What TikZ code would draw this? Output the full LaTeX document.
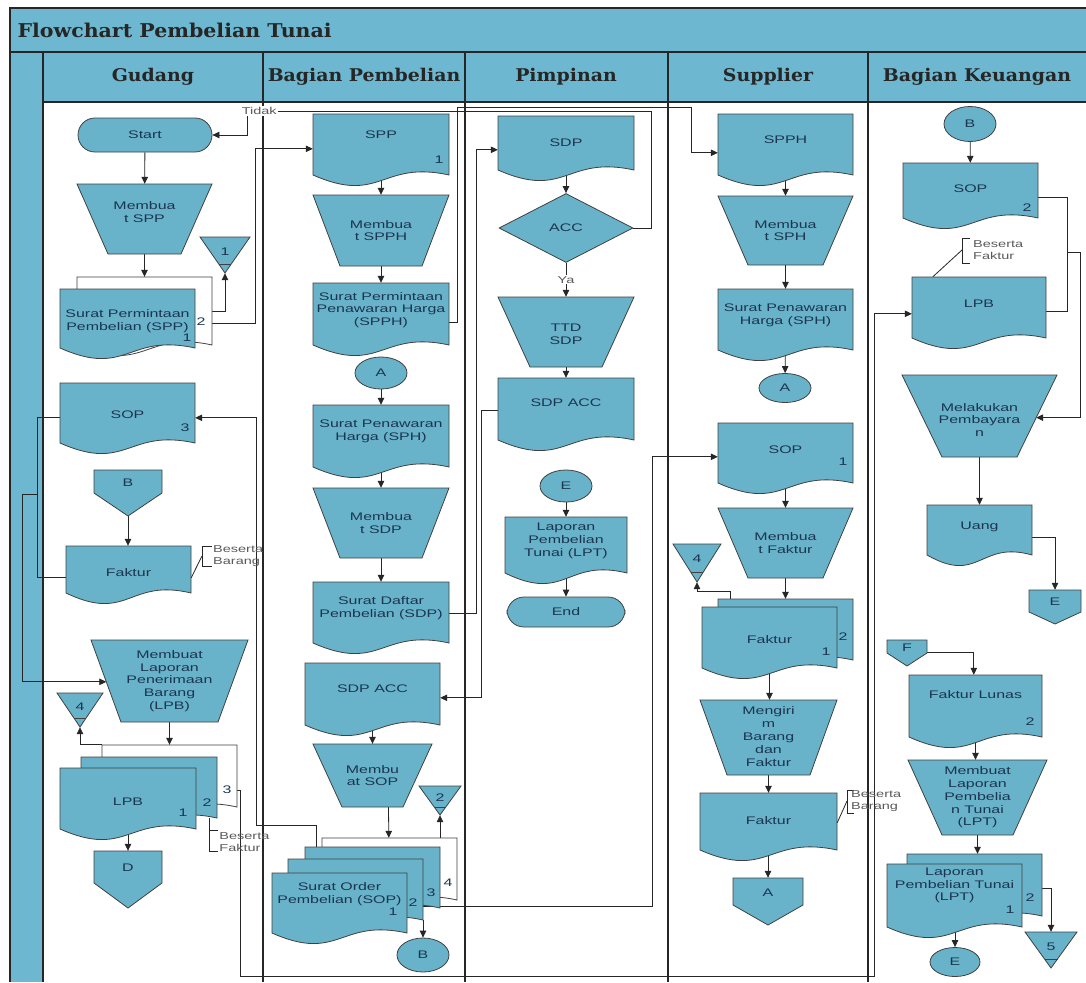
\documentclass[tikz,border=0pt]{standalone}
\usepackage{fontspec}
\newfontfamily\docfont[FakeStretch=1.45]{Liberation Sans}
\newfontfamily\headfont[FakeStretch=1.08]{DejaVu Serif}
\usetikzlibrary{arrows.meta,calc,fit,backgrounds,shapes.geometric}
\definecolor{poolblue}{HTML}{6DB8D0}
\definecolor{shapeblue}{HTML}{68B3CA}
\definecolor{labelnavy}{HTML}{1C3550}
\definecolor{notegrey}{HTML}{5A5A5A}

\tikzset{
  shp/.style={fill=shapeblue, draw=black!75, line width=0.8pt},
  blankdoc/.style={fill=white, draw=black!75, line width=0.8pt},
  lbl/.style={font=\docfont\fontsize{11}{12.8}\selectfont, text=labelnavy, align=center, inner sep=0pt},
  num/.style={font=\docfont\fontsize{11}{12}\selectfont, text=labelnavy, inner sep=0pt},
  note/.style={font=\docfont\fontsize{10}{11.5}\selectfont, text=notegrey, align=left, inner sep=0pt},
  yesno/.style={note, fill=white, inner sep=1pt},
  flow/.style={draw=black!85, line width=0.8pt, -{Triangle[length=7pt,width=6.5pt]}},
  wire/.style={draw=black!85, line width=0.8pt},
  laneline/.style={draw=black!85, line width=1.2pt},
  term/.style={shp, lbl, rectangle, rounded corners=17pt, minimum width=134pt, minimum height=34pt},
  conn/.style={shp, lbl, ellipse, minimum width=52pt, minimum height=32pt},
  decide/.style={shp, lbl, diamond, minimum width=134pt, minimum height=69pt},
  lanehead/.style={font=\headfont\bfseries\fontsize{17.5}{19}\selectfont, text=black!85},
  pooltitle/.style={font=\headfont\bfseries\fontsize{19}{21}\selectfont, text=black!85},
}

% document with wavy bottom: name, x1, y1, x2, y2
\newcommand{\docl}[6][shp]{%
  \draw[#1] (#3,#4) -- (#5,#4) -- (#5,#6)
    .. controls ({(#3+#5)/2},{#6-15}) and ({(#3+#5)/2},{#6+30}) .. (#3,#6) -- cycle;
  \node[fit={(#3,#4) (#5,#6)}, inner sep=0pt] (#2) {};}
\newcommand{\docu}[8][shp]{%
  \docl[#1]{#2}{#3}{#4}{#5}{#6}
  \node[lbl] (#2-t) at ($(#2.center)+(0,#7)$) {#8};}
% manual operation: name, x1, y1, x2, y2, inset, dy, text
\newcommand{\manop}[8]{%
  \draw[shp] (#2,#3) coordinate (#1-tl) -- (#4,#3) coordinate (#1-tr)
    -- ({#4-#6},#5) coordinate (#1-br) -- ({#2+#6},#5) coordinate (#1-bl) -- cycle;
  \node[fit={(#2,#3) (#4,#5)}, inner sep=0pt] (#1) {};
  \node[lbl] (#1-t) at ($(#1.center)+(0,#7)$) {#8};}
% off-page connector: name, cx, top, half width, shoulder, apex, text
\newcommand{\offpg}[7]{%
  \draw[shp] ({#2-#4},#3) -- ({#2+#4},#3) -- ({#2+#4},#5) -- (#2,#6) -- ({#2-#4},#5) -- cycle;
  \node[fit={({#2-#4},#3) ({#2+#4},#6)}, inner sep=0pt] (#1) {};
  \node[lbl] (#1-t) at (#2,{(#3+#5)/2+1}) {#7};}
% archive triangle: name, cx, top, half width, apex, text
\newcommand{\store}[6]{%
  \draw[shp] ({#2-#4},#3) -- ({#2+#4},#3) -- (#2,#5) -- cycle;
  \draw[shp] ({#2-0.25*#4},{#3+0.75*(#5-#3)}) -- ({#2+0.25*#4},{#3+0.75*(#5-#3)});
  \node[fit={({#2-#4},#3) ({#2+#4},#5)}, inner sep=0pt] (#1) {};
  \node[lbl] (#1-t) at (#2,{#3+0.4*(#5-#3)}) {#6};}

\begin{document}
\begin{tikzpicture}[x=1pt,y=-1pt]
  \useasboundingbox (0,0) rectangle (1086,982);
  % Pool and lanes
  \begin{scope}[on background layer]
    \fill[white] (0,0) rectangle (1086,982);
    \fill[poolblue] (10,8) rectangle (1086,52);
    \fill[poolblue] (10,52) rectangle (43,982);
    \fill[poolblue] (43,52) rectangle (1086,102);
    \draw[laneline] (10,982) -- (10,8) -- (1086,8);
    \draw[laneline] (10,52) -- (1086,52);
    \draw[laneline] (43,102) -- (1086,102);
    \foreach \x in {43,263,465,668,868}
      \draw[laneline] (\x,52) -- (\x,982);
  \end{scope}
  \node[pooltitle, anchor=west] (judul) at (14,30) {Flowchart Pembelian Tunai};
  \node[lanehead] (hgudang) at (153,77) {Gudang};
  \node[lanehead] (hbeli) at (364,77) {Bagian Pembelian};
  \node[lanehead] (hpimpin) at (566,77) {Pimpinan};
  \node[lanehead] (hsupp) at (768,77) {Supplier};
  \node[lanehead] (huang) at (977,77) {Bagian Keuangan};

  % Gudang
  \node[term] (start) at (145,135) {Start};
  \manop{mkspp}{77}{184}{212}{254}{31}{-7}{Membua\\t SPP}
  \docl[blankdoc]{sppb}{77}{277}{212}{345}
  \docu{sppf}{60}{289}{195}{348}{3}{Surat Permintaan\\Pembelian (SPP)}
  \node[num] (sppn1) at (187,338) {1};
  \node[num] (sppn2) at (201,322) {2};
  \store{arsip1}{225}{237}{25}{273}{1}
  \docu{sopg}{60}{383}{195}{443}{2}{SOP}
  \node[num] (sopgn) at (185,428) {3};
  \offpg{offbg}{128}{470}{34}{493}{516}{B}
  \docu{fakg}{66}{546}{191}{593}{3}{Faktur}
  \manop{mklpb}{91}{640}{248}{722}{30}{0}{Membuat\\Laporan\\Penerimaan\\Barang\\(LPB)}
  \store{arsip4g}{80}{693}{23}{727}{4}
  \docl[blankdoc]{lpbc}{102}{745}{237}{807}
  \docl{lpbb}{81}{757}{217}{818}
  \docu{lpba}{60}{768}{196}{829}{3}{LPB}
  \node[num] (lpbn1) at (183,813) {1};
  \node[num] (lpbn2) at (207,803) {2};
  \node[num] (lpbn3) at (227,790) {3};
  \offpg{offd}{128}{851}{34}{883}{908}{D}

  % Bagian Pembelian
  \docu{sppbp}{313}{114}{449}{175}{-10}{SPP}
  \node[num] (sppbpn) at (439,160) {1};
  \manop{mkspph}{313}{195}{449}{266}{27}{0}{Membua\\t SPPH}
  \docu{spph}{313}{283}{449}{345}{-4}{Surat Permintaan\\Penawaran Harga\\(SPPH)}
  \node[conn] (cona) at (381,373) {A};
  \docu{sph}{313}{405}{449}{467}{-5}{Surat Penawaran\\Harga (SPH)}
  \manop{mksdp}{313}{488}{449}{558}{27}{0}{Membua\\t SDP}
  \docu{sdp}{313}{582}{449}{643}{-4}{Surat Daftar\\Pembelian (SDP)}
  \docu{sdpaccb}{305}{663}{440}{725}{-5}{SDP ACC}
  \manop{mksop}{313}{744}{432}{807}{29}{0}{Membu\\at SOP}
  \store{arsip2}{440}{786}{21}{815}{2}
  \docl[blankdoc]{sopd}{322}{838}{457}{900}
  \docl{sopc}{305}{847}{440}{908}
  \docl{sopb}{288}{859}{423}{920}
  \docu{sopa}{272}{873}{407}{933}{-9}{Surat Order\\Pembelian (SOP)}
  \node[num] (sopn1) at (393,912) {1};
  \node[num] (sopn2) at (413,903) {2};
  \node[num] (sopn3) at (431,893) {3};
  \node[num] (sopn4) at (448,883) {4};
  \node[conn, minimum height=34pt] (conb) at (423,955) {B};

  % Pimpinan
  \docu{sdpp}{498}{116}{634}{170}{0}{SDP}
  \node[decide] (acc) at (566,228) {ACC};
  \manop{ttd}{498}{297}{634}{367}{32}{2}{TTD\\SDP}
  \docu{sdpaccp}{498}{378}{634}{440}{-6}{SDP ACC}
  \node[conn] (cone) at (566,486) {E};
  \docu{lpt}{505}{517}{627}{573}{-4}{Laporan\\Pembelian\\Tunai (LPT)}
  \node[term, minimum width=118pt, minimum height=30pt] (endt) at (566,612) {End};

  % Supplier
  \docu{spphs}{718}{114}{853}{175}{-5}{SPPH}
  \manop{mksph}{718}{196}{853}{265}{30}{0}{Membua\\t SPH}
  \docu{sphs}{718}{289}{853}{350}{-4}{Surat Penawaran\\Harga (SPH)}
  \node[conn, minimum height=29pt] (conas) at (785,388) {A};
  \docu{sops}{718}{423}{853}{483}{-3}{SOP}
  \node[num] (sopsn) at (843,462) {1};
  \manop{mkfak}{718}{508}{853}{578}{30}{0}{Membua\\t Faktur}
  \store{arsip4s}{697}{544}{24}{582}{4}
  \docl{fakb}{718}{599}{853}{660}
  \docu{faka}{702}{607}{837}{668}{2}{Faktur}
  \node[num] (fakn1) at (826,652) {1};
  \node[num] (fakn2) at (843,637) {2};
  \manop{mkirim}{700}{700}{837}{775}{27}{-1}{Mengiri\\m\\Barang\\dan\\Faktur}
  \docu{fakk}{700}{793}{837}{850}{-1}{Faktur}
  \offpg{offas}{768}{878}{35}{905}{925}{A}

  % Bagian Keuangan
  \node[conn, minimum height=35pt] (conbk) at (970,124) {B};
  \docu{sopk}{903}{163}{1038}{218}{-2}{SOP}
  \node[num] (sopkn) at (1027,208) {2};
  \docu{lpbk}{912}{277}{1046}{338}{-4}{LPB}
  \manop{bayar}{902}{375}{1057}{457}{40}{4}{Melakukan\\Pembayara\\n}
  \docu{uang}{927}{505}{1032}{555}{-3}{Uang}
  \offpg{offe}{1055}{590}{26}{612}{624}{E}
  \offpg{offf}{907}{640}{20}{653}{666}{F}
  \docu{fakl}{909}{675}{1042}{737}{-11}{Faktur Lunas}
  \node[num] (fakln) at (1030,722) {2};
  \manop{mklpt}{908}{760}{1047}{835}{34}{0}{Membuat\\Laporan\\Pembelia\\n Tunai\\(LPT)}
  \docl{lptb}{907}{854}{1042}{916}
  \docu{lpta}{887}{864}{1022}{927}{-10}{Laporan\\Pembelian Tunai\\(LPT)}
  \node[num] (lptn1) at (1010,910) {1};
  \node[num] (lptn2) at (1030,898) {2};
  \store{arsip5}{1051}{932}{26}{968}{5}
  \node[conn, minimum width=50pt, minimum height=29pt] (conek) at (955,962) {E};

  % Notes
  \coordinate (brg1) at (202,546);
  \draw[wire] ($(brg1)+(10,0)$) -- (brg1) -- ++(0,20) -- ++(10,0);
  \draw[wire] ($(fakg.north east)+(0,32)$) -- ($(brg1)+(0,10)$);
  \node[note, anchor=west] (ketbrg1) at ($(brg1)+(11,10)$) {Beserta\\Barang};
  \coordinate (brg2) at ($(lpbb.south east)+(-8,12)$);
  \draw[wire] ($(lpbb.south east)+(-8,0)$) -- (brg2) -- ++(0,21) -- ++(9,0);
  \draw[wire] (brg2) -- ++(9,0);
  \node[note, anchor=west] (ketbrg2) at ($(brg2)+(10,12)$) {Beserta\\Faktur};
  \coordinate (brg3) at (847,790);
  \draw[wire] ($(brg3)+(7,0)$) -- (brg3) -- ++(0,23) -- ++(7,0);
  \draw[wire] ($(fakk.north east)+(0,30)$) -- ($(brg3)+(0,11)$);
  \node[note, anchor=west] (ketbrg3) at ($(brg3)+(4,11)$) {Beserta\\Barang};
  \coordinate (brg4) at (962,238);
  \draw[wire] ($(brg4)+(8,0)$) -- (brg4) -- ++(0,25) -- ++(8,0);
  \draw[wire] ($(brg4)+(0,12)$) -- ($(lpbk.north west)+(21,0)$);
  \node[note, anchor=west] (ketbrg4) at ($(brg4)+(11,12)$) {Beserta\\Faktur};

  % Flows
  \begin{scope}[on background layer]
    \draw[flow] (start) -- (mkspp);
    \draw[flow] (mkspp) -- (sppb);
    \draw[flow] ($(sppb.north east)+(0,35)$) -| (arsip1.south);
    \draw[flow] ($(sppf.north east)+(0,35)$) -- ++(60,0) |- ($(sppbp.north west)+(0,35)$);
    \draw[wire] ($(sopg.north west)+(0,35)$) -- ++(-22,0) coordinate (gj) |- ($(fakg.north west)+(0,32)$);
    \draw[flow] ($(gj)+(0,77)$) -- ++(-15,0) |- ($(mklpb-tl)!0.51!(mklpb-bl)$);
    \draw[flow] (offbg.south) -- (offbg.south |- fakg.north);
    \draw[flow] (mklpb.south) -- (mklpb.south |- lpbc.north);
    \draw[flow] (lpbc.north west) -| (arsip4g.south);
    \draw[flow] ($(lpbc.north east)+(0,46)$) -- ++(3,0) -- ++(0,186) -| ($(lpbk.north west)+(-37,37)$) -- ($(lpbk.north west)+(0,37)$);
    \draw[flow] (lpba.south) -- (offd.north);

    \draw[flow] (sppbp) -- (mkspph);
    \draw[flow] (mkspph) -- (spph);
    \draw[flow] ($(spph.north east)+(0,40)$) -- ++(8,0) -- ++(0,-215) -| ($(spphs.north west)+(-26,39)$) -- ($(spphs.north west)+(0,39)$);
    \draw[flow] (cona) -- (sph);
    \draw[flow] (sph) -- (mksdp);
    \draw[flow] (mksdp) -- (sdp);
    \draw[flow] ($(sdp.north east)+(0,32)$) -- ++(27,0) |- ($(sdpp.north west)+(0,34)$);
    \draw[flow] ($(sdpaccp.north west)+(0,33)$) -- ++(-16,0) |- ($(sdpaccb.north east)+(0,35)$);
    \draw[flow] (sdpaccb) -- (mksop);
    \draw[flow] ($(mksop.south)+(16,0)$) -- ($(sopd.north west)+(67,0)$);
    \draw[flow] (arsip2.south |- sopd.north) -- (arsip2.south);
    \draw[flow] ($(sopc.north west)+(12,0)$) -- ++(0,-21) -- ++(-60,0) |- ($(sopg.north east)+(0,35)$);
    \draw[flow] ($(sopb.north east)+(0,48)$) -- ++(229,0) |- ($(sops.north west)+(0,34)$);
    \draw[flow] (conb.north |- sopb.south) -- (conb.north);

    \draw[flow] (sdpp) -- (acc);
    \draw[flow] (acc) -- node[yesno] (ya) {Ya} (ttd);
    \draw[flow] (acc.east) -- ++(18,0) -- ++(0,-117) -- ++(-404,0) node[yesno, anchor=west, xshift=-7pt] (tidak) {Tidak} |- (start.east);
    \draw[flow] (ttd) -- (sdpaccp);
    \draw[flow] (cone) -- (lpt);
    \draw[flow] (lpt) -- (endt);

    \draw[flow] (spphs) -- (mksph);
    \draw[flow] (mksph) -- (sphs);
    \draw[flow] (sphs) -- (conas);
    \draw[flow] (sops) -- (mkfak);
    \draw[flow] (mkfak) -- (fakb);
    \draw[flow] ($(fakb.north west)+(13,0)$) -- ++(0,-7) -| (arsip4s.south);
    \draw[flow] (faka.south) -- (faka.south |- mkirim.north);
    \draw[flow] (mkirim) -- (fakk);
    \draw[flow] (fakk.south -| offas.north) -- (offas.north);

    \draw[flow] (conbk) -- (sopk);
    \draw[wire] ($(sopk.north east)+(0,35)$) -- ++(29,0) coordinate (kj) |- ($(lpbk.north east)+(0,35)$);
    \draw[flow] ($(kj)+(0,55)$) -- ++(13,0) |- ($(bayar-tr)!0.52!(bayar-br)$);
    \draw[flow] (bayar) -- (uang);
    \draw[flow] ($(uang.north east)+(0,33)$) -| (offe.north);
    \draw[flow] ($(offf.north east)+(0,13)$) -| ($(fakl.north west)+(65,0)$);
    \draw[flow] (fakl.south) -- (fakl.south |- mklpt.north);
    \draw[flow] (mklpt.south) -- (mklpt.south |- lptb.north);
    \draw[flow] ($(lptb.north east)+(0,35)$) -| (arsip5.north);
    \draw[flow] (conek.north |- lpta.south) -- (conek.north);
  \end{scope}
\end{tikzpicture}
\end{document}
